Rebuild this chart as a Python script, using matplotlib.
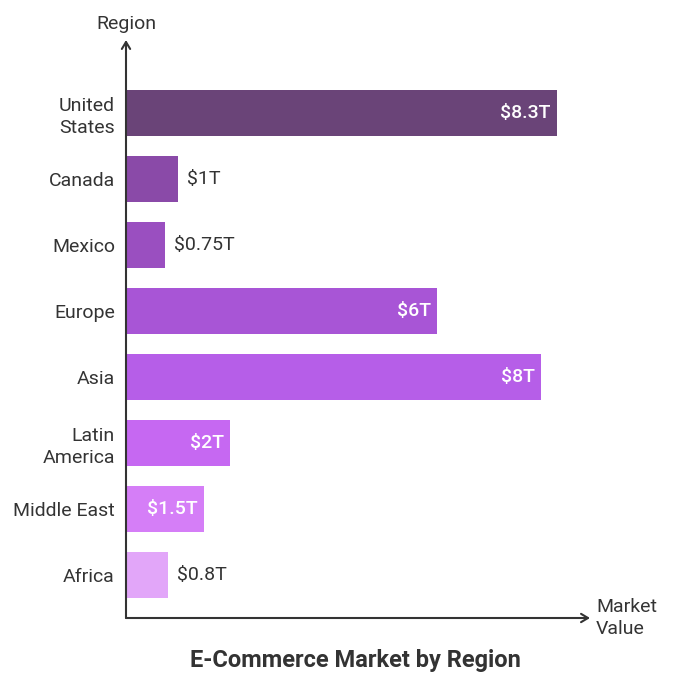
import matplotlib
matplotlib.use("Agg")
import matplotlib.pyplot as plt

plt.rcParams["font.family"] = "Roboto"

regions = ["United\nStates", "Canada", "Mexico", "Europe", "Asia", "Latin\nAmerica", "Middle East", "Africa"]
values = [8.3, 1, 0.75, 6, 8, 2, 1.5, 0.8]
labels = ["$8.3T", "$1T", "$0.75T", "$6T", "$8T", "$2T", "$1.5T", "$0.8T"]
colors = ["#6a4478", "#8a4aa8", "#9a4fc0", "#a855d6", "#b65ee8", "#c668f2", "#d57ef7", "#e2a6f9"]
inside = [True, False, False, True, True, True, True, False]

W, H = 678, 690
fig = plt.figure(figsize=(W/100, H/100), dpi=100)
ax = fig.add_axes([126/W, (H-618)/H, (588-126)/W, (618-40)/H])
ax.set_xlim(0, (588-126)/51.9)
ax.set_ylim((618-113)/66, (40-113)/66)
ys = list(range(len(values)))
ax.barh(ys, values, height=46/66, color=colors)
for y, v, l, ins in zip(ys, values, labels, inside):
    if ins:
        ax.text(v - 0.12, y, l, ha="right", va="center", color="white", fontsize=14, fontweight="medium")
    else:
        ax.text(v + 0.18, y, l, ha="left", va="center", color="#333333", fontsize=14)
ax.set_yticks(ys)
ax.set_yticklabels(regions, fontsize=14, color="#333333", linespacing=1.3)
ax.tick_params(axis="y", length=0, pad=8)
ax.set_xticks([])
for s in ["top", "right", "left", "bottom"]:
    ax.spines[s].set_visible(False)
fig.add_artist(matplotlib.patches.FancyArrowPatch((126/W, (H-618)/H), (126/W, (H-40)/H),
    transform=fig.transFigure, arrowstyle="->,head_length=5,head_width=3", color="#333333", lw=1.5, shrinkA=0, shrinkB=0))
fig.add_artist(matplotlib.patches.FancyArrowPatch((126/W, (H-618)/H), (590/W, (H-618)/H),
    transform=fig.transFigure, arrowstyle="->,head_length=5,head_width=3", color="#333333", lw=1.5, shrinkA=0, shrinkB=0))
fig.text(126/W, (H-24)/H, "Region", ha="center", va="center", fontsize=14, color="#333333")
fig.text(596/W, (H-618)/H, "Market\nValue", ha="left", va="center", fontsize=14, color="#333333", linespacing=1.3)
fig.text(355/W, (H-660)/H, "E-Commerce Market by Region", ha="center", va="center", fontsize=17, fontweight="bold", color="#333333")
fig.savefig("out.png", dpi=100)
